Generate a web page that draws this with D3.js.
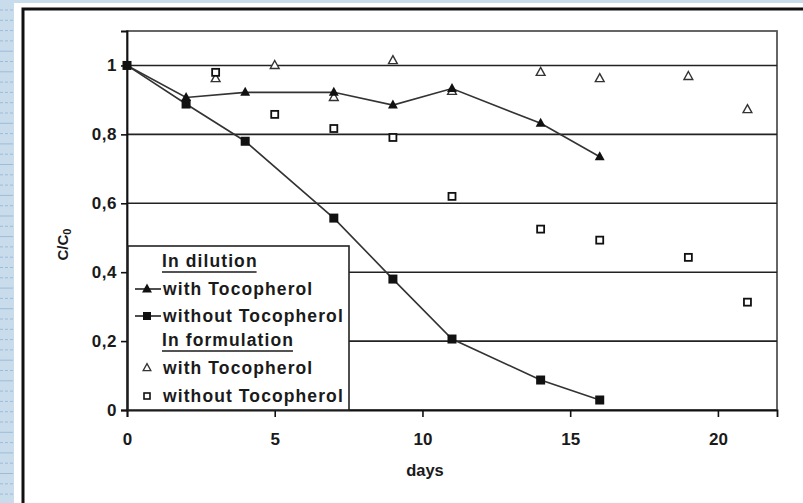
<!DOCTYPE html>
<html>
<head>
<meta charset="utf-8">
<script src="https://cdn.jsdelivr.net/npm/d3@7/dist/d3.min.js"></script>
<style>
  html, body { margin: 0; padding: 0; background: #fff; }
  svg { display: block; }
  text { font-family: "Liberation Sans", Arial, sans-serif; font-weight: bold; fill: #1a1a1a; }
</style>
</head>
<body>
<svg id="chart" width="803" height="503"></svg>
<script>
// ---- data ----
const xTicks = [0, 5, 10, 15, 20];
const yTicks = [0, 0.2, 0.4, 0.6, 0.8, 1];
const yTickLabels = ["0", "0,2", "0,4", "0,6", "0,8", "1"];

const dilWithDays = [0, 2, 4, 7, 9, 11, 14, 16];
const dilWithVals = [1, 0.907, 0.922, 0.922, 0.885, 0.933, 0.832, 0.735];

const dilWithoutDays = [0, 2, 4, 7, 9, 11, 14, 16];
const dilWithoutVals = [1, 0.888, 0.78, 0.557, 0.38, 0.206, 0.087, 0.029];

const formWithDays = [3, 5, 7, 9, 11, 14, 16, 19, 21];
const formWithVals = [0.962, 1.0, 0.907, 1.014, 0.925, 0.98, 0.962, 0.968, 0.872];

const formWithoutDays = [3, 5, 7, 9, 11, 14, 16, 19, 21];
const formWithoutVals = [0.98, 0.858, 0.817, 0.791, 0.62, 0.525, 0.493, 0.443, 0.313];

const legendTitles = ["In dilution", "In formulation"];
const legendLabels = ["with Tocopherol", "without Tocopherol"];

// ---- drawing ----
const svg = d3.select("#chart");
const W = 803, H = 503;

// page background strips
svg.append("rect").attr("x", 0).attr("y", 0).attr("width", W).attr("height", H).attr("fill", "#fff");
svg.append("rect").attr("x", 0).attr("y", 0).attr("width", 14).attr("height", H).attr("fill", "#c9dcec");
svg.append("rect").attr("x", 0).attr("y", 0).attr("width", W).attr("height", 3).attr("fill", "#c9dcec");
const dashG = svg.append("g");
for (let yy = 10; yy < H; yy += 10.3) {
  dashG.append("line").attr("x1", 0).attr("x2", 13).attr("y1", yy).attr("y2", yy)
    .attr("stroke", "#9dbcd8").attr("stroke-width", 1)
    .attr("stroke-dasharray", Math.round(yy) % 3 === 0 ? "13,0" : "3,2");
}
// outer frame
svg.append("path").attr("d", `M23,${H} L23,9 L${W},9`)
  .attr("fill", "none").attr("stroke", "#111").attr("stroke-width", 3);

const x = d3.scaleLinear().domain([0, 22]).range([127, 777]);
const y = d3.scaleLinear().domain([0, 1.1]).range([410, 31]);

// plot frame
svg.append("rect").attr("x", x(0)).attr("y", y(1.1))
  .attr("width", x(22) - x(0)).attr("height", y(0) - y(1.1))
  .attr("fill", "none").attr("stroke", "#555").attr("stroke-width", 1.8);

// grid lines
svg.append("g").selectAll("line").data(yTicks.filter(d => d > 0)).join("line")
  .attr("x1", x(0)).attr("x2", x(22))
  .attr("y1", d => y(d)).attr("y2", d => y(d))
  .attr("stroke", "#222").attr("stroke-width", 1.6);

// axes
const yAxis = d3.axisLeft(y).tickValues(yTicks).tickSize(6).tickPadding(4)
  .tickFormat((d, i) => yTickLabels[i]);
const gy = svg.append("g").attr("transform", `translate(${x(0)},0)`).call(yAxis);
gy.select(".domain").attr("stroke", "#111").attr("stroke-width", 1.8);
gy.selectAll(".tick line").attr("stroke", "#111").attr("stroke-width", 1.6);
gy.selectAll(".tick text").attr("font-size", 17).attr("font-family", "Liberation Sans, Arial, sans-serif")
  .attr("font-weight", "bold").attr("fill", "#1a1a1a").attr("letter-spacing", 0.5);

const xAxis = d3.axisBottom(x).tickValues(xTicks).tickSize(7).tickPadding(16).tickFormat(d3.format("d"));
const gx = svg.append("g").attr("transform", `translate(0,${y(0)})`).call(xAxis);
gx.select(".domain").attr("stroke", "#111").attr("stroke-width", 1.8);
gx.selectAll(".tick line").attr("stroke", "#111").attr("stroke-width", 1.6);
gx.selectAll(".tick text").attr("font-size", 17).attr("font-family", "Liberation Sans, Arial, sans-serif")
  .attr("font-weight", "bold").attr("fill", "#1a1a1a");

// axis titles
svg.append("text").attr("x", 425).attr("y", 476)
  .attr("text-anchor", "middle").attr("font-size", 16.5).text("days");
const yl = svg.append("text").attr("transform", `translate(68,${y(0.48)}) rotate(-90)`)
  .attr("text-anchor", "middle").attr("font-size", 15);
yl.append("tspan").text("C/C");
yl.append("tspan").attr("font-size", 11).attr("dy", 3).text("0");

// marker helpers
const triPath = (s) => `M0,${-s * 0.62} L${s * 0.55},${s * 0.38} L${-s * 0.55},${s * 0.38} Z`;

function drawSeries(days, vals, withLine) {
  const pts = days.map((d, i) => [x(d), y(vals[i])]);
  if (withLine) {
    svg.append("path").attr("d", d3.line()(pts))
      .attr("fill", "none").attr("stroke", "#333").attr("stroke-width", 1.6);
  }
  return pts;
}

const p1 = drawSeries(dilWithoutDays, dilWithoutVals, true);
const p2 = drawSeries(dilWithDays, dilWithVals, true);
const p3 = drawSeries(formWithDays, formWithVals, false);
const p4 = drawSeries(formWithoutDays, formWithoutVals, false);

// formulation with (open triangles)
svg.append("g").selectAll("path").data(p3).join("path")
  .attr("transform", d => `translate(${d[0]},${d[1]})`)
  .attr("d", triPath(8)).attr("fill", "#fff").attr("stroke", "#333").attr("stroke-width", 1.4);
// formulation without (open squares)
svg.append("g").selectAll("rect").data(p4).join("rect")
  .attr("x", d => d[0] - 3.5).attr("y", d => d[1] - 3.5).attr("width", 7).attr("height", 7)
  .attr("fill", "#fff").attr("stroke", "#111").attr("stroke-width", 1.8);
// dilution without (filled squares)
svg.append("g").selectAll("rect").data(p1).join("rect")
  .attr("x", d => d[0] - 4.5).attr("y", d => d[1] - 4.5).attr("width", 9).attr("height", 9)
  .attr("fill", "#111");
// dilution with (filled triangles)
svg.append("g").selectAll("path").data(p2.slice(1)).join("path")
  .attr("transform", d => `translate(${d[0]},${d[1]})`)
  .attr("d", triPath(9)).attr("fill", "#111");

// legend
const lg = svg.append("g");
lg.append("rect").attr("x", 128).attr("y", 246).attr("width", 221).attr("height", y(0) - 246)
  .attr("fill", "#fff").attr("stroke", "#222").attr("stroke-width", 1.6);
const fs = 17.5, ls = 1.1;
function title(t, yy) {
  const tx = lg.append("text").attr("x", 162).attr("y", yy).attr("font-size", fs)
    .attr("letter-spacing", ls).text(t);
  const w = tx.node().getComputedTextLength();
  lg.append("line").attr("x1", 162).attr("x2", 162 + w - ls).attr("y1", yy + 5).attr("y2", yy + 5)
    .attr("stroke", "#1a1a1a").attr("stroke-width", 1.6);
}
function label(t, yy) {
  lg.append("text").attr("x", 163).attr("y", yy + 6).attr("font-size", fs)
    .attr("letter-spacing", ls).text(t);
}
title(legendTitles[0], 267);
label(legendLabels[0], 289);
lg.append("line").attr("x1", 135).attr("x2", 161).attr("y1", 289).attr("y2", 289).attr("stroke", "#222").attr("stroke-width", 1.6);
lg.append("path").attr("transform", "translate(147,289)").attr("d", triPath(9)).attr("fill", "#111");
label(legendLabels[1], 316);
lg.append("line").attr("x1", 135).attr("x2", 161).attr("y1", 316).attr("y2", 316).attr("stroke", "#222").attr("stroke-width", 1.6);
lg.append("rect").attr("x", 143).attr("y", 312).attr("width", 8).attr("height", 8).attr("fill", "#111");
title(legendTitles[1], 346);
label(legendLabels[0], 368);
lg.append("path").attr("transform", "translate(147,368)").attr("d", triPath(7)).attr("fill", "#fff").attr("stroke", "#333").attr("stroke-width", 1.3);
label(legendLabels[1], 396);
lg.append("rect").attr("x", 144).attr("y", 393).attr("width", 6).attr("height", 6).attr("fill", "#fff").attr("stroke", "#111").attr("stroke-width", 1.6);
</script>
</body>
</html>
